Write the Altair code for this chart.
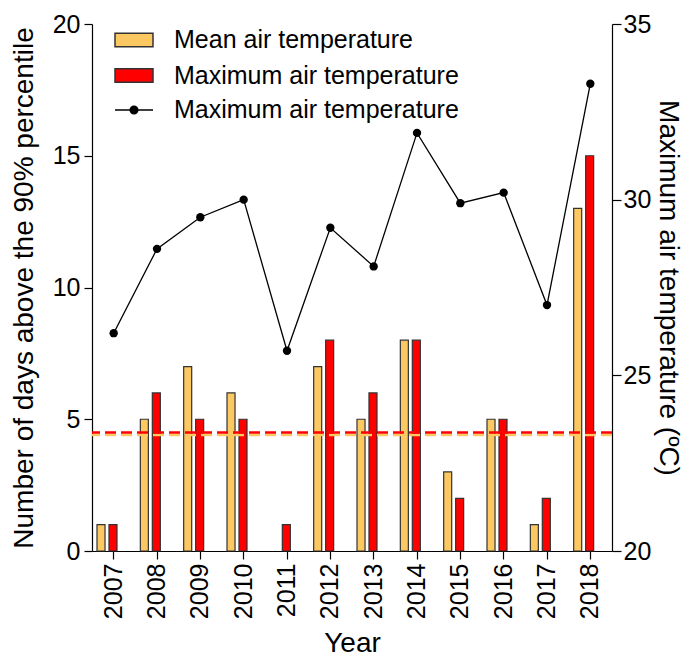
import altair as alt
import pandas as pd

years = ["2007", "2008", "2009", "2010", "2011", "2012",
         "2013", "2014", "2015", "2016", "2017", "2018"]
mean_days = [1, 5, 7, 6, 0, 7, 5, 8, 3, 5, 1, 13]
max_days = [1, 6, 5, 5, 1, 8, 6, 8, 2, 5, 2, 15]
max_temp = [26.2, 28.6, 29.5, 30.0, 25.7, 29.2, 28.1, 31.9, 29.9, 30.2, 27.0, 33.3]
series_names = ["Mean air temperature", "Maximum air temperature"]
series_colors = ["#FCC862", "#FF0000"]
threshold_mean = [4.4]
threshold_max = [4.5]
line_label = ["Maximum air temperature"]

FONT = "Liberation Sans"
BOX = "M-1,-0.36H1V0.36H-1Z"


def ring(r):
    return "M{0},0A{0},{0},0,1,1,-{0},0A{0},{0},0,1,1,{0},0Z".format(r)


LINE_DOT = "M-1,0H1" + "".join(ring(r) for r in [0.2, 0.14, 0.08, 0.03])

bars_df = pd.DataFrame({
    "year": years * 2,
    "series": [series_names[0]] * len(years) + [series_names[1]] * len(years),
    "days": mean_days + max_days,
})
line_df = pd.DataFrame({"year": years, "temp": max_temp,
                        "lbl": line_label * len(years)})

x_enc = alt.X("year:O", sort=years,
              scale=alt.Scale(paddingInner=0, paddingOuter=0),
              axis=alt.Axis(title="Year", labelAngle=270, tickSize=8,
                            labelPadding=4, titlePadding=11))
y_axis = alt.Axis(title="Number of days above the 90% percentile",
                  values=[0, 5, 10, 15, 20], tickSize=8, labelPadding=4,
                  titlePadding=14, grid=False)
y_scale = alt.Scale(domain=[0, 20], nice=False)

bars = alt.Chart(bars_df).mark_bar(stroke="#333333", strokeWidth=1.2).encode(
    x=x_enc,
    xOffset=alt.XOffset("series:N", sort=series_names,
                        scale=alt.Scale(domain=series_names, range=[5, 25],
                                        paddingInner=0.33, paddingOuter=0)),
    y=alt.Y("days:Q", scale=y_scale, axis=y_axis),
    color=alt.Color("series:N", sort=series_names,
                    scale=alt.Scale(domain=series_names, range=series_colors),
                    legend=alt.Legend(title=None, orient="none", legendX=22,
                                      legendY=4, symbolType=BOX,
                                      symbolSize=1444, symbolStrokeColor="#333333",
                                      symbolStrokeWidth=1.5,
                                      labelFont=FONT, labelFontSize=25,
                                      labelColor="black", labelOffset=20,
                                      labelLimit=0,
                                      clipHeight=24, rowPadding=10.5,
                                      padding=0)),
).transform_filter(alt.datum.days > 0)

rule_mean = alt.Chart(pd.DataFrame({"days": threshold_mean})).mark_rule(
    color="#FCC862", strokeDash=[11, 5], strokeWidth=2.5).encode(
    y=alt.Y("days:Q", scale=y_scale, axis=y_axis))
rule_max = alt.Chart(pd.DataFrame({"days": threshold_max})).mark_rule(
    color="#FF0000", strokeDash=[11, 5], strokeWidth=2.5).encode(
    y=alt.Y("days:Q", scale=y_scale, axis=y_axis))

left = alt.layer(bars, rule_mean, rule_max)

t_scale = alt.Scale(domain=[20, 35], nice=False)
t_axis = alt.Axis(title="Maximum air temperature (ºC)", orient="right",
                  values=[20, 25, 30, 35], tickSize=9, labelPadding=2,
                  titlePadding=3, grid=False)

line = alt.Chart(line_df).mark_line(color="black", strokeWidth=1.3).encode(
    x=x_enc, y=alt.Y("temp:Q", scale=t_scale, axis=t_axis),
    opacity=alt.Opacity("lbl:N", scale=alt.Scale(domain=line_label, range=[1]),
                        legend=alt.Legend(title=None, orient="none", legendX=22,
                                          legendY=74, symbolType=LINE_DOT,
                                          symbolSize=1444,
                                          symbolFillColor="black",
                                          symbolStrokeColor="black",
                                          symbolStrokeWidth=1.5,
                                          labelFont=FONT, labelFontSize=25,
                                          labelColor="black", labelOffset=20,
                                          labelLimit=0,
                                          clipHeight=24, padding=0)),
)
pts = alt.Chart(line_df).mark_point(filled=True, color="black", size=70,
                                    opacity=1).encode(
    x=x_enc, y=alt.Y("temp:Q", scale=t_scale, axis=t_axis),
)
right = alt.layer(line, pts)

chart = alt.layer(left, right).resolve_scale(y="independent").properties(
    width=520, height=527,
    autosize=alt.AutoSizeParams(type="none"),
    padding={"left": 92, "top": 24, "right": 74, "bottom": 108},
).configure_view(stroke=None).configure_axis(
    domainColor="black", tickColor="black", domainWidth=1.2, tickWidth=1.2,
    labelFont=FONT, labelFontSize=25, labelColor="black",
    titleFont=FONT, titleFontSize=28, titleFontWeight="normal",
    titleColor="black",
)

chart.save("out.html", embed_options={"renderer": "svg", "actions": False})
